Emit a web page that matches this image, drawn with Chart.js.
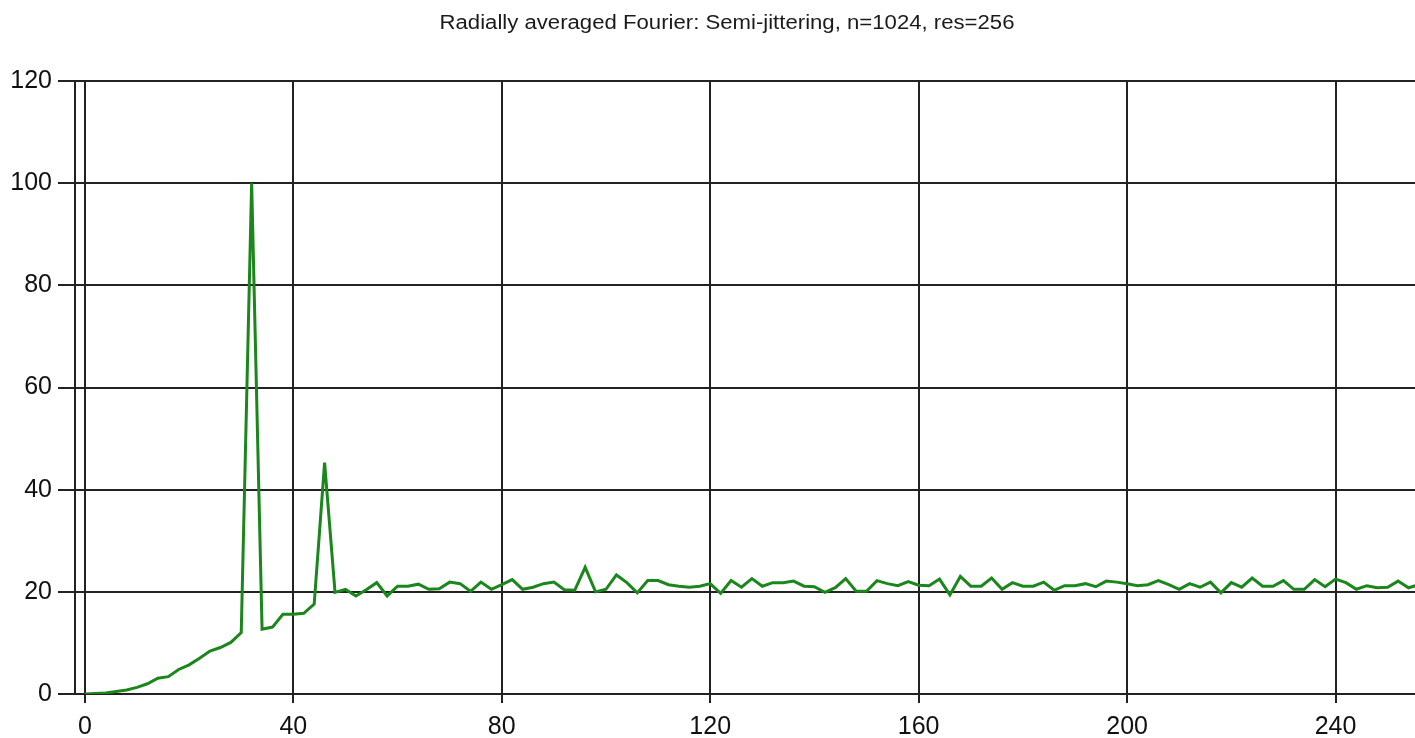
<!DOCTYPE html>
<html>
<head>
<meta charset="utf-8">
<script src="https://cdn.jsdelivr.net/npm/chart.js@4/dist/chart.umd.min.js"></script>
<style>
  html, body { margin: 0; padding: 0; background: #ffffff; }
  canvas { display: block; }
</style>
</head>
<body>
<canvas id="c" width="1415" height="738"></canvas>
<script>
const titleText = "Radially averaged Fourier: Semi-jittering, n=1024, res=256";

const frequencies = [
  0, 2, 4, 6, 8, 10, 12, 14, 16, 18, 20, 22, 24, 26, 28, 30,
  32, 34, 36, 38, 40, 42, 44, 46, 48, 50, 52, 54, 56, 58, 60, 62,
  64, 66, 68, 70, 72, 74, 76, 78, 80, 82, 84, 86, 88, 90, 92, 94,
  96, 98, 100, 102, 104, 106, 108, 110, 112, 114, 116, 118, 120, 122, 124, 126,
  128, 130, 132, 134, 136, 138, 140, 142, 144, 146, 148, 150, 152, 154, 156, 158,
  160, 162, 164, 166, 168, 170, 172, 174, 176, 178, 180, 182, 184, 186, 188, 190,
  192, 194, 196, 198, 200, 202, 204, 206, 208, 210, 212, 214, 216, 218, 220, 222,
  224, 226, 228, 230, 232, 234, 236, 238, 240, 242, 244, 246, 248, 250, 252, 254,
  256
];

const power = [
  0, 0.1, 0.2, 0.5, 0.8, 1.3, 2.0, 3.1, 3.4, 4.8, 5.7, 7.0, 8.4, 9.1, 10.1, 12.0,
  100, 12.7, 13.1, 15.6, 15.6, 15.8, 17.6, 45.3, 19.9, 20.5, 19.2, 20.4, 21.8, 19.2, 21.1, 21.1,
  21.5, 20.5, 20.6, 21.9, 21.6, 20.1, 21.9, 20.5, 21.4, 22.4, 20.5, 20.9, 21.6, 21.9, 20.4, 20.3,
  24.8, 20.0, 20.5, 23.3, 21.8, 19.8, 22.2, 22.2, 21.4, 21.1, 20.9, 21.1, 21.6, 19.7, 22.2, 20.9,
  22.6, 21.1, 21.8, 21.8, 22.1, 21.1, 21.0, 19.9, 20.8, 22.6, 20.1, 20.1, 22.2, 21.6, 21.2, 22.0,
  21.3, 21.2, 22.5, 19.4, 23.0, 21.1, 21.1, 22.7, 20.5, 21.8, 21.1, 21.1, 21.9, 20.3, 21.2, 21.2,
  21.6, 21.0, 22.1, 21.9, 21.6, 21.2, 21.4, 22.2, 21.4, 20.5, 21.6, 20.9, 21.9, 19.8, 21.8, 20.9,
  22.7, 21.1, 21.1, 22.2, 20.5, 20.5, 22.4, 21.0, 22.5, 21.8, 20.5, 21.2, 20.8, 20.9, 22.1, 20.8,
  21.4
];

const xTickValues = [0, 40, 80, 120, 160, 200, 240];
const yTickValues = [0, 20, 40, 60, 80, 100, 120];

const points = frequencies.map((f, i) => ({ x: f, y: power[i] }));

const titlePlugin = {
  id: 'customTitle',
  afterDraw(chart) {
    const ctx = chart.ctx;
    ctx.save();
    ctx.font = '20px "Liberation Sans", Arial, sans-serif';
    ctx.fillStyle = '#1a1a1a';
    ctx.textAlign = 'center';
    ctx.textBaseline = 'middle';
    const w = ctx.measureText(titleText).width;
    const targetW = 575;
    ctx.translate(727, 23);
    ctx.scale(targetW / w, 1);
    ctx.fillText(titleText, 0, 0);
    ctx.restore();
  }
};

const bgPlugin = {
  id: 'bg',
  beforeDraw(chart) {
    const ctx = chart.ctx;
    ctx.save();
    ctx.fillStyle = '#ffffff';
    ctx.fillRect(0, 0, chart.width, chart.height);
    ctx.restore();
  }
};

new Chart(document.getElementById('c'), {
  type: 'line',
  data: {
    datasets: [{
      data: points,
      borderColor: '#1b861b',
      borderWidth: 3,
      pointRadius: 0,
      tension: 0,
      fill: false
    }]
  },
  options: {
    responsive: false,
    animation: false,
    events: [],
    layout: { padding: { top: 81, left: 0, right: 0, bottom: 0 } },
    plugins: {
      legend: { display: false },
      title: { display: false },
      tooltip: { enabled: false }
    },
    scales: {
      x: {
        type: 'linear',
        min: -1.9,
        max: 255.25,
        afterFit(scale) { scale.height = 44; },
        afterBuildTicks(scale) { scale.ticks = xTickValues.map(v => ({ value: v })); },
        ticks: {
          autoSkip: false,
          maxRotation: 0,
          padding: 9,
          color: '#111111',
          font: { family: '"Liberation Sans", Arial, sans-serif', size: 25 }
        },
        grid: {
          color: '#222222',
          lineWidth: 2,
          tickLength: 9,
          drawTicks: true
        },
        border: { display: true, color: '#222222', width: 2 }
      },
      y: {
        type: 'linear',
        min: 0,
        max: 120,
        afterFit(scale) { scale.width = 75; },
        afterBuildTicks(scale) { scale.ticks = yTickValues.map(v => ({ value: v })); },
        ticks: {
          padding: 6,
          color: '#111111',
          font: { family: '"Liberation Sans", Arial, sans-serif', size: 25 }
        },
        grid: {
          color: '#222222',
          lineWidth: 2,
          tickLength: 17,
          drawTicks: true
        },
        border: { display: true, color: '#222222', width: 2 }
      }
    }
  },
  plugins: [bgPlugin, titlePlugin]
});
</script>
</body>
</html>
